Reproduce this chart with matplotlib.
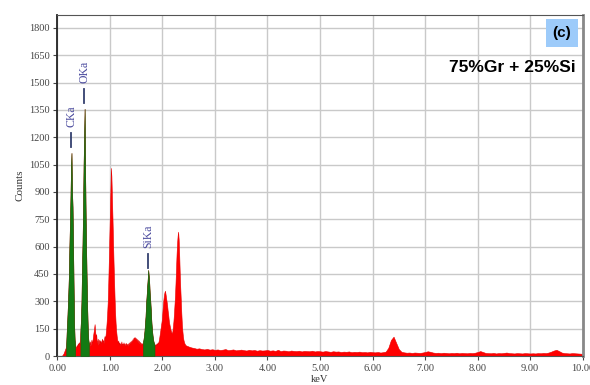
import numpy as np
import matplotlib.pyplot as plt
from matplotlib.patches import Rectangle

# --- spectrum ---
# lead-in (keV, counts)
lead_kev = [0.00, 0.08, 0.10, 0.12, 0.14, 0.15]
lead_counts = [0, 0, 5, 15, 30, 38]

# fine channels, 0.01 keV apart, from 0.16 to 2.45 (one row = 0.1 keV)
fine_start = 0.16
fine_step = 0.01
fine_counts = [
    45, 70, 140, 200, 270, 350, 440, 600, 720, 860,        # 0.16
    1026, 1114, 900, 820, 600, 380, 170, 90, 60, 50,       # 0.26
    42, 60, 52, 70, 58, 75, 60, 90, 140, 200,              # 0.36
    300, 480, 620, 800, 1044, 1200, 1356, 1000, 760, 560,  # 0.46
    400, 250, 150, 90, 70, 62, 80, 55, 70, 90,             # 0.56
    65, 85, 110, 130, 150, 175, 140, 100, 120, 85,         # 0.66
    70, 95, 60, 75, 90, 70, 85, 65, 80, 95,                # 0.76
    75, 88, 70, 95, 110, 90, 120, 150, 190, 240,           # 0.86
    300, 400, 520, 650, 780, 900, 1032, 985, 870, 760,     # 0.96
    640, 520, 420, 320, 240, 180, 140, 110, 90, 70,        # 1.06
    85, 60, 75, 55, 70, 62, 80, 58, 68, 60,                # 1.16
    75, 55, 70, 62, 58, 72, 60, 66, 55, 70,                # 1.26
    62, 75, 68, 80, 72, 85, 78, 92, 85, 100,               # 1.36
    95, 105, 92, 100, 88, 95, 80, 90, 72, 85,              # 1.46
    68, 78, 65, 72, 62, 70, 66, 75, 90, 110,               # 1.56
    140, 180, 220, 290, 330, 380, 420, 472, 440, 400,      # 1.66
    340, 300, 250, 190, 150, 120, 95, 80, 70, 62,          # 1.76
    58, 66, 55, 70, 62, 75, 68, 85, 100, 120,              # 1.86
    140, 160, 180, 200, 240, 280, 310, 335, 350, 358,      # 1.96
    340, 320, 300, 280, 250, 230, 200, 180, 165, 150,      # 2.06
    140, 130, 125, 135, 160, 190, 230, 280, 330, 400,      # 2.16
    480, 560, 620, 660, 682, 640, 560, 460, 380, 310,      # 2.26
    240, 180, 140, 110, 90, 78, 70, 64, 60, 58,            # 2.36
]

# tail channels, 0.05 keV apart, from 2.50 to 10.00
tail_start = 2.50
tail_step = 0.05
tail_counts = [
    52, 47, 44, 40, 42, 38, 36, 39, 35, 37, 34,                                # 2.50
    36, 33, 35, 38, 32, 34, 36, 31, 33, 35, 32, 30, 34, 31, 33, 29, 32, 30, 31, 33,  # 3.05
    29, 31, 28, 34, 27, 30, 29, 26, 30, 28, 27, 29, 25, 28, 27, 26, 29, 25, 27, 26,  # 4.05
    24, 27, 25, 23, 26, 24, 25, 22, 24, 23, 25, 21, 23, 22, 24, 21, 22, 20, 23, 21,  # 5.05
    20, 22, 19, 21, 24, 45, 88, 106, 72, 38, 23, 20, 18, 19, 17, 19, 18, 17, 19, 22,  # 6.05
    26, 23, 19, 17, 18, 16, 18, 17, 15, 17, 16, 18, 15, 17, 16, 15, 17, 16, 18, 22,  # 7.05
    27, 22, 17, 16, 15, 17, 14, 16, 15, 17, 19, 16, 15, 14, 16, 15, 14, 16, 15, 14,  # 8.05
    15, 14, 16, 15, 17, 16, 19, 24, 30, 34, 27, 19, 16, 15, 14, 16, 15, 14, 13, 12,  # 9.05
]

# element windows (green) and line labels
windows = [(0.17, 0.34), (0.44, 0.60), (1.63, 1.85)]
line_names = ['CKa', 'OKa', 'SiKa']
line_kev = [0.265, 0.515, 1.73]
line_lo = [1147, 1388, 483]
line_hi = [1224, 1465, 560]

yticks = [0, 150, 300, 450, 600, 750, 900, 1050, 1200, 1350, 1500, 1650, 1800]
xticks = [0, 1, 2, 3, 4, 5, 6, 7, 8, 9, 10]

fine_kev = fine_start + fine_step * np.arange(len(fine_counts))
tail_kev = tail_start + tail_step * np.arange(len(tail_counts))
kev = np.concatenate([lead_kev, fine_kev, tail_kev])
counts = np.concatenate([lead_counts, fine_counts, tail_counts])

fig = plt.figure(figsize=(5.9, 3.85), dpi=100)
ax = fig.add_axes([57.3 / 590, 29 / 385, 525.4 / 590, 341 / 385])

ax.fill_between(kev, 0, counts, color='#ff0000', lw=0.4, edgecolor='#e80000', zorder=2)
for lo, hi in windows:
    m = (kev >= lo) & (kev <= hi)
    ax.fill_between(kev[m], 0, counts[m], color='#137a13', lw=0.4, edgecolor='#0f6a0f', zorder=3)

serif = ['Liberation Serif', 'DejaVu Serif']
for name, x, lo, hi in zip(line_names, line_kev, line_lo, line_hi):
    ax.plot([x, x], [lo, hi], color='#34406e', lw=1.3, zorder=4)
    ax.text(x, hi + 35, name, rotation=90, ha='center', va='bottom',
            fontsize=8.5, color='#4b4b9e', family=serif, zorder=4)

ax.set_xlim(0, 10)
ax.set_ylim(0, 1871)
ax.set_xticks(xticks)
ax.set_xticklabels(['%.2f' % v for v in xticks])
ax.set_yticks(yticks)
ax.grid(True, color='#c9c9c9', lw=1, zorder=0)
ax.set_axisbelow(True)
ax.tick_params(labelsize=7.5, colors='#444444', length=3, width=0.8, pad=2.5)
for lab in ax.get_xticklabels() + ax.get_yticklabels():
    lab.set_family(serif)

ax.spines['left'].set_color('#222222')
ax.spines['left'].set_linewidth(1.3)
ax.spines['bottom'].set_color('#555555')
ax.spines['top'].set_color('#555555')
ax.spines['right'].set_color('#888888')
ax.spines['right'].set_linewidth(2)

ax.set_ylabel('Counts', family=serif, fontsize=8, color='#333333', labelpad=3)
ax.set_xlabel('keV', family=serif, fontsize=7.5, color='#333333', labelpad=1.5)

# panel tag and composition label
fig.patches.append(Rectangle((546 / 590, 1 - 47 / 385), 32 / 590, 28 / 385,
                             transform=fig.transFigure, facecolor='#9dcbfa',
                             edgecolor='none', zorder=5))
fig.text(562 / 590, 1 - 33 / 385, '(c)', ha='center', va='center',
         fontsize=11, fontweight='bold', family='Liberation Sans', zorder=6)
fig.text(576 / 590, 1 - 67 / 385, '75%Gr + 25%Si', ha='right', va='center',
         fontsize=12.5, fontweight='bold', family='Liberation Sans', zorder=6)

fig.savefig('out.png', dpi=100)
